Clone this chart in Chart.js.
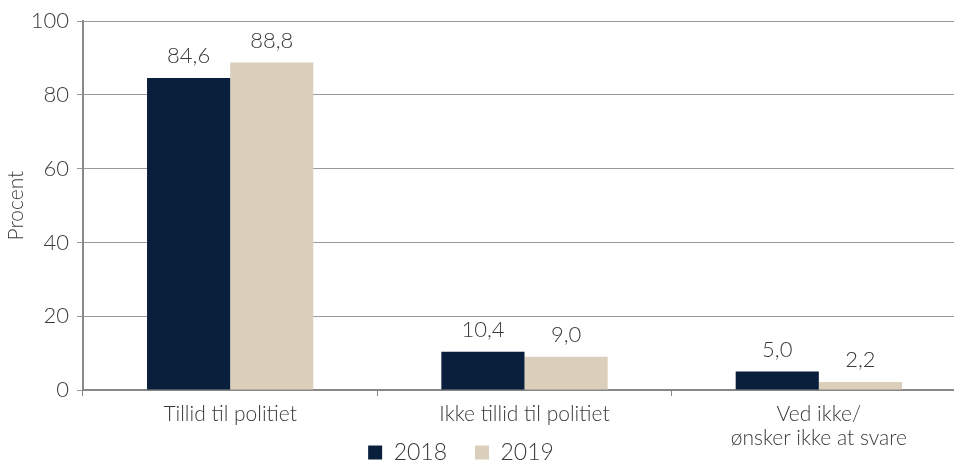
<!DOCTYPE html>
<html>
<head>
<meta charset="utf-8">
<script src="https://cdn.jsdelivr.net/npm/chart.js@4.4.1/dist/chart.umd.min.js"></script>
<style>
  html, body { margin: 0; padding: 0; background: #fff; overflow: hidden; }
  #wrap { width: 966px; height: 463px; }
</style>
</head>
<body>
<div id="wrap"><canvas id="chart" width="966" height="463"></canvas></div>
<script>
const categories = ['Tillid til politiet', 'Ikke tillid til politiet', ['Ved ikke/', 'ønsker ikke at svare']];
const values2018 = [84.6, 10.4, 5.0];
const values2019 = [88.8, 9.0, 2.2];
const seriesNames = ['2018', '2019'];
const yTicks = [0, 20, 40, 60, 80, 100];

const textColor = '#3a3a3a';
const fontFamily = 'Lato, "Open Sans", sans-serif';

// labels above the bars, danish decimal comma
const valueLabels = {
    id: 'valueLabels',
    afterDatasetsDraw(chart) {
        const ctx = chart.ctx;
        ctx.save();
        ctx.font = '300 22px ' + fontFamily;
        ctx.fillStyle = textColor;
        ctx.textAlign = 'center';
        ctx.textBaseline = 'bottom';
        chart.data.datasets.forEach((ds, i) => {
            chart.getDatasetMeta(i).data.forEach((bar, j) => {
                ctx.fillText(ds.data[j].toFixed(1).replace('.', ','), bar.x, bar.y - 11);
            });
        });
        ctx.restore();
    }
};

// legend sits low and a bit left of the middle in the original
const legendBox = {
    id: 'legendBox',
    beforeLayout(chart) {
        const lg = chart.legend;
        if (lg && !lg._patched) {
            const fit = lg.fit;
            lg.fit = function () { fit.call(this); this.height = 14; };
            lg._patched = true;
        }
    },
    beforeDraw(chart) {
        const lg = chart.legend;
        if (lg) {
            lg.left = 0;
            lg.right = 922;
            lg.top = 413;
        }
    }
};

const ctx = document.getElementById('chart').getContext('2d');
new Chart(ctx, {
    type: 'bar',
    data: {
        labels: categories,
        datasets: [
            { label: seriesNames[0], data: values2018, backgroundColor: '#0a1f3c' },
            { label: seriesNames[1], data: values2019, backgroundColor: '#dbcfbb' }
        ]
    },
    plugins: [valueLabels, legendBox],
    options: {
        responsive: false,
        animation: false,
        layout: { padding: { top: 19, right: 0, left: 4, bottom: 0 } },
        datasets: {
            bar: { categoryPercentage: 0.565, barPercentage: 1.0 }
        },
        scales: {
            x: {
                grid: { drawOnChartArea: false, drawTicks: true, tickLength: 6, color: '#888', offset: true },
                border: { color: '#888', width: 2 },
                ticks: { color: textColor, font: { family: fontFamily, size: 21, weight: 300, lineHeight: 1.15 }, padding: 6, maxRotation: 0 },
                afterFit(scale) { scale.height = 59; }
            },
            y: {
                min: 0,
                max: 100,
                afterBuildTicks(scale) { scale.ticks = yTicks.map(v => ({ value: v })); },
                grid: { color: '#999', lineWidth: 1, tickLength: 6 },
                border: { color: '#888', width: 2 },
                ticks: { color: textColor, font: { family: fontFamily, size: 22, weight: 300 }, padding: 8 },
                title: { display: true, text: 'Procent', color: textColor, font: { family: fontFamily, size: 21, weight: 300 }, padding: { top: 0, bottom: 0 } },
                afterFit(scale) { scale.width = 79; }
            }
        },
        plugins: {
            legend: {
                position: 'bottom',
                labels: {
                    color: textColor,
                    font: { family: fontFamily, size: 23, weight: 300 },
                    boxWidth: 14,
                    boxHeight: 14,
                    padding: 28
                }
            },
            tooltip: { enabled: false }
        }
    }
});
</script>
</body>
</html>
